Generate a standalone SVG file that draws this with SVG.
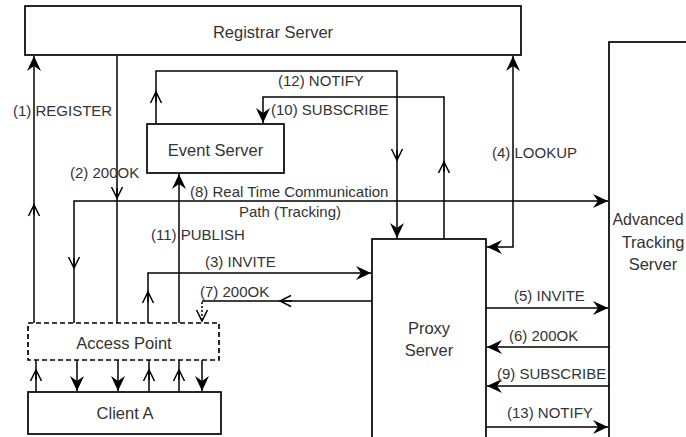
<svg xmlns="http://www.w3.org/2000/svg" width="686" height="437" viewBox="0 0 686 437">
<style>
  .box{fill:#fff;stroke:#000;stroke-width:1.7}
  .dash{fill:#fff;stroke:#000;stroke-width:1.7;stroke-dasharray:5 3}
  .ln{fill:none;stroke:#000;stroke-width:1.5}
  .dot{fill:none;stroke:#000;stroke-width:1.5;stroke-dasharray:2 2}
  .nt{font-family:"Liberation Sans",Arial,sans-serif;font-size:16.5px;fill:#333;text-anchor:middle}
  .lt{font-family:"Liberation Sans",Arial,sans-serif;font-size:15px;fill:#333}
  .fe{marker-end:url(#fa)}
  .fb{marker-start:url(#fa);marker-end:url(#fa)}
  .oe{marker-end:url(#oa)}
</style>
<defs>
  <marker id="fa" markerUnits="userSpaceOnUse" markerWidth="20" markerHeight="16" viewBox="-16 -8 20 16" refX="0" refY="0" orient="auto-start-reverse" overflow="visible">
    <path d="M0,0 L-15,-7 L-10,0 L-15,7 Z" fill="#000"/>
  </marker>
  <marker id="oa" markerUnits="userSpaceOnUse" markerWidth="20" markerHeight="16" viewBox="-16 -8 20 16" refX="0" refY="0" orient="auto" overflow="visible">
    <path d="M-11,-5.5 L0,0 L-11,5.5" fill="none" stroke="#000" stroke-width="1.5"/>
  </marker>
</defs>
<rect width="686" height="437" fill="#fff"/>

<g id="proxy-server">
  <rect class="box" x="372" y="239" width="114" height="215"/>
  <text class="nt" x="429" y="334">Proxy</text>
  <text class="nt" x="429" y="356">Server</text>
</g>
<g id="advanced-tracking-server">
  <rect class="box" x="609" y="42" width="110" height="420"/>
  <text class="nt" x="648" y="225" style="font-size:16px">Advanced</text>
  <text class="nt" x="653" y="248">Tracking</text>
  <text class="nt" x="653" y="270">Server</text>
</g>

<g id="connectors">
  <!-- (1) REGISTER -->
  <path class="ln fe" d="M34,323 V56"/>
  <path class="ln oe" d="M34,215 V205"/>
  <!-- (2) 200OK -->
  <path class="ln" d="M117,56 V323"/>
  <path class="ln oe" d="M117,188 V198"/>
  <!-- (8) Real Time Communication Path -->
  <path class="ln fe" d="M74,323 V201 H608"/>
  <path class="ln oe" d="M74,258 V268"/>
  <!-- (12) NOTIFY -->
  <path class="ln fe" d="M156,124 V71 H397 V238"/>
  <path class="ln oe" d="M156,102 V92"/>
  <path class="ln oe" d="M397,150 V160"/>
  <!-- (10) SUBSCRIBE -->
  <path class="ln fe" d="M444,239 V97 H263 V123"/>
  <path class="ln oe" d="M444,172 V162"/>
  <!-- (4) LOOKUP -->
  <path class="ln fb" d="M487,247 H513 V56"/>
  <!-- (11) PUBLISH -->
  <path class="ln fe" d="M179,323 V174"/>
  <!-- (3) INVITE -->
  <path class="ln fe" d="M148,323 V273 H371"/>
  <path class="ln oe" d="M148,302 V292"/>
  <!-- (7) 200OK -->
  <path class="ln" d="M372,301 H202"/>
  <path class="ln oe" d="M292,301 H280"/>
  <path class="dot oe" d="M202,302 V321"/>
  <!-- Access Point / Client A -->
  <path class="ln" d="M36,392 V360"/>
  <path class="ln oe" d="M36,380 V370"/>
  <path class="ln fe" d="M77,360 V391"/>
  <path class="ln fe" d="M118,360 V391"/>
  <path class="ln" d="M149,392 V360"/>
  <path class="ln oe" d="M149,380 V370"/>
  <path class="ln" d="M179,392 V360"/>
  <path class="ln oe" d="M179,380 V370"/>
  <path class="ln fe" d="M202,360 V391"/>
  <!-- Proxy <-> Advanced Tracking Server -->
  <path class="ln fe" d="M486,308 H608"/>
  <path class="ln fe" d="M609,347 H487"/>
  <path class="ln fe" d="M609,386 H487"/>
  <path class="ln fe" d="M486,427 H608"/>

  <text class="lt" x="13" y="116">(1) REGISTER</text>
  <text class="lt" x="70" y="178">(2) 200OK</text>
  <text class="lt" x="278" y="86">(12) NOTIFY</text>
  <text class="lt" x="271" y="115">(10) SUBSCRIBE</text>
  <text class="lt" x="492" y="158">(4) LOOKUP</text>
  <text class="lt" x="190" y="197">(8) Real Time Communication</text>
  <text class="lt" x="239" y="217">Path (Tracking)</text>
  <text class="lt" x="151" y="240">(11) PUBLISH</text>
  <text class="lt" x="205" y="267">(3) INVITE</text>
  <text class="lt" x="200" y="297">(7) 200OK</text>
  <text class="lt" x="514" y="301">(5) INVITE</text>
  <text class="lt" x="509" y="341">(6) 200OK</text>
  <text class="lt" x="497" y="379">(9) SUBSCRIBE</text>
  <text class="lt" x="507" y="418">(13) NOTIFY</text>
</g>

<g id="registrar-server">
  <rect class="box" x="25" y="6" width="496" height="49"/>
  <text class="nt" x="273" y="38">Registrar Server</text>
</g>
<g id="event-server">
  <rect class="box" x="147" y="124" width="137" height="49"/>
  <text class="nt" x="215.5" y="156">Event Server</text>
</g>
<g id="access-point">
  <rect class="dash" x="28" y="323" width="191" height="37"/>
  <text class="nt" x="124" y="349">Access Point</text>
</g>
<g id="client-a">
  <rect class="box" x="28" y="392" width="193" height="42"/>
  <text class="nt" x="125" y="419">Client A</text>
</g>
</svg>
